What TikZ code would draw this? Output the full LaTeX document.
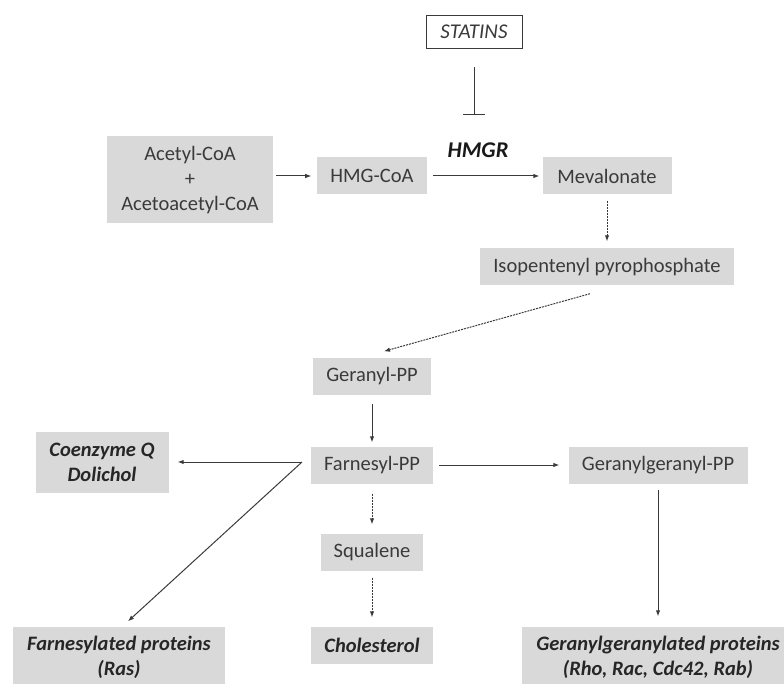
\documentclass[tikz,border=0pt]{standalone}
\usepackage{fontspec}
\setmainfont{Carlito}
\usetikzlibrary{arrows.meta}
\definecolor{boxgray}{HTML}{D9D9D9}
\definecolor{txtgray}{HTML}{3A3A3A}
\definecolor{linegray}{HTML}{3A3A3A}
\tikzset{
  met/.style={fill=boxgray, text=txtgray, inner xsep=13pt, inner ysep=0pt,
    minimum height=37pt, align=center},
  prod/.style={met, text=black!85, font=\fontsize{20.5}{25}\selectfont\bfseries\itshape},
  rxn/.style={draw=linegray, line width=1pt, -{Latex[length=6pt,width=4.5pt]},
    shorten <=6pt, shorten >=7pt},
  slow/.style={rxn, dash pattern=on 2pt off 1pt}
}
\begin{document}
\begin{tikzpicture}[x=1pt, y=-1pt, font=\fontsize{20.5}{25}\selectfont]
  \useasboundingbox (0, 0) rectangle (784, 684);
  \clip (0, 0) rectangle (784, 684);
  \node[draw=linegray, line width=1pt, fill=white, text=txtgray, font=\fontsize{21}{25}\selectfont\itshape,
    minimum width=96pt, minimum height=33pt, inner sep=0pt] (statins) at (474, 32) {STATINS};
  \node[font=\fontsize{22.5}{25}\selectfont\bfseries\itshape, text=black!90] (hmgr) at (478, 150) {HMGR};
  \coordinate (block) at (474, 115);
  \draw[linegray, line width=1pt, -{Bar[width=22pt]}, shorten <=18.5pt] (statins) -- (block);

  \node[met, minimum width=166pt, minimum height=87pt] (acetyl) at (190, 180)
    {Acetyl-CoA\\+\\Acetoacetyl-CoA};
  \node[met] (hmg) at (372, 176) {HMG-CoA};
  \node[met, minimum width=129pt] (mev) at (607, 176) {Mevalonate};
  \node[met] (iso) at (607, 267) {Isopentenyl pyrophosphate};
  \node[met] (ger) at (372, 376) {Geranyl-PP};
  \node[met] (far) at (372, 465) {Farnesyl-PP};
  \node[met] (squ) at (372, 552) {Squalene};
  \node[met, minimum width=179pt] (gg) at (658, 465) {Geranylgeranyl-PP};
  \node[prod, minimum width=133pt, minimum height=61pt] (coq) at (102, 462) {Coenzyme Q\\Dolichol};
  \node[prod] (chol) at (372, 645) {Cholesterol};
  \node[prod, minimum width=212pt, minimum height=61pt] (farp) at (119, 657)
    {Farnesylated proteins\\(Ras)};
  \node[prod, minimum width=272pt, minimum height=61pt] (ggp) at (658, 657)
    {Geranylgeranylated proteins\\(Rho, Rac, Cdc42, Rab)};
  \coordinate (fork) at (302, 462);

  \draw[rxn, shorten <=3pt, shorten >=6pt] (acetyl.east |- hmg) -- (hmg);
  \draw[rxn, shorten <=6pt, shorten >=3pt] (hmg) -- (mev);
  \draw[slow] (mev) -- (iso);
  \draw[slow, shorten <=0pt, shorten >=0pt] ([xshift=-17pt, yshift=-8pt]iso.south)
    -- ([xshift=12pt, yshift=6pt]ger.north);
  \draw[rxn, shorten <=9pt, shorten >=4pt] (ger) -- (far);
  \draw[slow, shorten <=10pt, shorten >=9pt] (far) -- (squ);
  \draw[slow, shorten <=7pt, shorten >=9pt] (squ) -- (chol);
  \draw[rxn, shorten >=9pt] (far) -- (gg);
  \draw[rxn, shorten >=10pt] (gg) -- (ggp);
  \draw[rxn, shorten <=0pt, shorten >=9pt] (fork) -- (coq.east |- fork);
  \draw[rxn, shorten <=0pt, shorten >=0pt] (fork) -- ([xshift=9pt, yshift=5pt]farp.north);
\end{tikzpicture}
\end{document}
